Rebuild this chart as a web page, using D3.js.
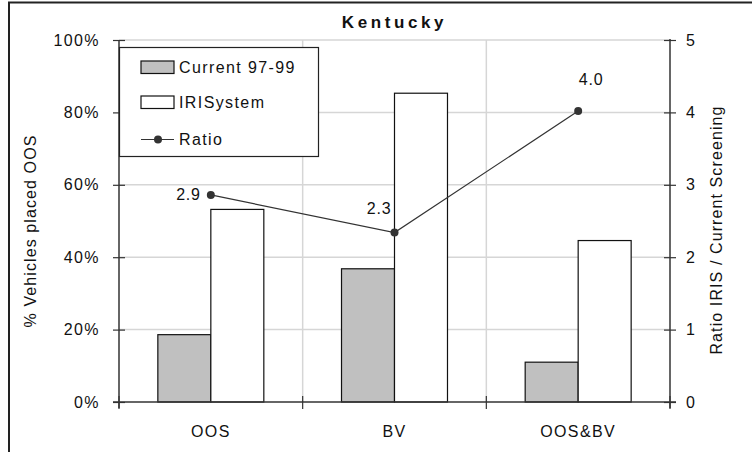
<!DOCTYPE html>
<html><head><meta charset="utf-8">
<script src="https://cdn.jsdelivr.net/npm/d3@7"></script>
<style>
body{margin:0;background:#fff}
svg text{font-family:"Liberation Sans",Arial,sans-serif;fill:#111}
</style>
</head><body><svg id="c" width="752" height="452"></svg>
<script>
const title = "Kentucky";
const categories = ["OOS", "BV", "OOS&BV"];
const seriesNames = ["Current 97-99", "IRISystem"];
const currentValues = [0.186, 0.368, 0.110];
const irisValues = [0.532, 0.853, 0.446];
const ratioName = "Ratio";
const ratioValues = [2.86, 2.34, 4.02];
const leftTicks = [0, 0.2, 0.4, 0.6, 0.8, 1.0];
const rightTicks = [0, 1, 2, 3, 4, 5];
const leftTitle = "% Vehicles placed OOS";
const rightTitle = "Ratio IRIS / Current Screening";

const W = 752, H = 452;
const m = {left: 119, right: 82, top: 40, bottom: 50};
const svg = d3.select("#c");
const FS = 16, LS = "1.4px";

// outer chart border (cropped on right/bottom)
svg.append("path").attr("d", `M9,${H} V2.5 H${W}`).attr("fill", "none")
  .attr("stroke", "#222").attr("stroke-width", 2);

const x = d3.scaleBand().domain(categories).range([m.left, W - m.right]).padding(0);
const x1 = d3.scaleBand().domain(seriesNames).range([0, x.bandwidth()]).paddingInner(0).paddingOuter(0.733);
const y = d3.scaleLinear().domain([0, 1]).range([H - m.bottom, m.top]);
const y2 = d3.scaleLinear().domain([0, 5]).range([H - m.bottom, m.top]);

const gridC = "#d6d6d6";
// horizontal gridlines
svg.append("g").selectAll("line").data(leftTicks.slice(1)).join("line")
  .attr("x1", m.left).attr("x2", W - m.right)
  .attr("y1", d => y(d)).attr("y2", d => y(d))
  .attr("stroke", gridC).attr("stroke-width", 1.5);
// vertical gridlines at category boundaries
svg.append("g").selectAll("line").data(categories.slice(1)).join("line")
  .attr("x1", d => x(d)).attr("x2", d => x(d))
  .attr("y1", m.top).attr("y2", H - m.bottom)
  .attr("stroke", gridC).attr("stroke-width", 1.5);

// bars
const seriesVals = [currentValues, irisValues];
const fills = ["#c0c0c0", "#ffffff"];
seriesNames.forEach((s, si) => {
  svg.append("g").selectAll("rect").data(categories).join("rect")
    .attr("x", c => x(c) + x1(s))
    .attr("y", (c, i) => y(seriesVals[si][i]))
    .attr("width", x1.bandwidth())
    .attr("height", (c, i) => y(0) - y(seriesVals[si][i]))
    .attr("fill", fills[si]).attr("stroke", "#111").attr("stroke-width", 1.2);
});

// axes
const axC = "#333";
// left axis
const la = svg.append("g").attr("transform", `translate(${m.left},0)`)
  .call(d3.axisLeft(y).tickValues(leftTicks).tickFormat(d3.format(".0%")).tickSize(6).tickPadding(12));
la.select(".domain").remove();
la.selectAll(".tick line").attr("x2", 6).attr("x1", -6).attr("stroke", axC).attr("stroke-width", 1.2);
la.selectAll(".tick text").attr("font-size", FS).attr("letter-spacing", LS).attr("fill", "#111").attr("font-family", null).attr("x", -19);
svg.append("line").attr("x1", m.left).attr("x2", m.left).attr("y1", m.top).attr("y2", H - m.bottom + 6)
  .attr("stroke", axC).attr("stroke-width", 1.5);

// right axis
const ra = svg.append("g").attr("transform", `translate(${W - m.right},0)`)
  .call(d3.axisRight(y2).tickValues(rightTicks).tickFormat(d3.format("d")).tickSize(6).tickPadding(10));
ra.select(".domain").remove();
ra.selectAll(".tick line").attr("x1", -6).attr("x2", 6).attr("stroke", axC).attr("stroke-width", 1.2);
ra.selectAll(".tick text").attr("font-size", FS).attr("fill", "#111").attr("font-family", null).attr("x", 16);
svg.append("line").attr("x1", W - m.right).attr("x2", W - m.right).attr("y1", m.top - 1).attr("y2", H - m.bottom + 6)
  .attr("stroke", axC).attr("stroke-width", 1.5);

// bottom axis
svg.append("line").attr("x1", m.left - 6).attr("x2", W - m.right + 6).attr("y1", y(0)).attr("y2", y(0))
  .attr("stroke", axC).attr("stroke-width", 1.5);
const boundaries = categories.map(c => x(c)).concat([x.range()[1]]);
svg.append("g").selectAll("line").data(boundaries).join("line")
  .attr("x1", d => d).attr("x2", d => d).attr("y1", y(0) - 6).attr("y2", y(0) + 7)
  .attr("stroke", axC).attr("stroke-width", 1.2);
svg.append("g").selectAll("text").data(categories).join("text")
  .attr("x", c => x(c) + x.bandwidth() / 2).attr("y", y(0) + 35)
  .attr("text-anchor", "middle").attr("font-size", FS).attr("letter-spacing", LS).text(c => c);

// ratio line
const xc = c => x(c) + x.bandwidth() / 2;
const line = d3.line().x((d, i) => xc(categories[i])).y(d => y2(d));
svg.append("path").datum(ratioValues).attr("d", line).attr("fill", "none")
  .attr("stroke", "#333").attr("stroke-width", 1.2);
svg.append("g").selectAll("circle").data(ratioValues).join("circle")
  .attr("cx", (d, i) => xc(categories[i])).attr("cy", d => y2(d)).attr("r", 4).attr("fill", "#333");
const fmt = d3.format(".1f");
const labOff = [{dx: -10, dy: 5, a: "end"}, {dx: -3, dy: -19, a: "end"}, {dx: 13, dy: -26, a: "middle"}];
svg.append("g").selectAll("text").data(ratioValues).join("text")
  .attr("x", (d, i) => xc(categories[i]) + labOff[i].dx)
  .attr("y", (d, i) => y2(d) + labOff[i].dy)
  .attr("text-anchor", (d, i) => labOff[i].a)
  .attr("font-size", FS).attr("letter-spacing", "0.8px").text(d => fmt(d));

// title
svg.append("text").attr("x", (m.left + W - m.right) / 2).attr("y", 28).attr("text-anchor", "middle")
  .attr("font-size", 17).attr("font-weight", "bold").attr("letter-spacing", "3.6px").text(title);

// axis titles
svg.append("text").attr("transform", `translate(36,${(m.top + H - m.bottom) / 2 + 10}) rotate(-90)`)
  .attr("text-anchor", "middle").attr("font-size", FS).attr("letter-spacing", "1.1px").text(leftTitle);
svg.append("text").attr("transform", `translate(722,${(m.top + H - m.bottom) / 2 + 9}) rotate(-90)`)
  .attr("text-anchor", "middle").attr("font-size", FS).attr("letter-spacing", "1.1px").text(rightTitle);

// legend
const lg = svg.append("g");
lg.append("rect").attr("x", 119.5).attr("y", 47.5).attr("width", 199).attr("height", 109)
  .attr("fill", "#fff").attr("stroke", "#222").attr("stroke-width", 1.2);
const legY = [67, 102];
seriesNames.forEach((s, i) => {
  lg.append("rect").attr("x", 141).attr("y", legY[i] - 6).attr("width", 33).attr("height", 12.5)
    .attr("fill", fills[i]).attr("stroke", "#111").attr("stroke-width", 1.2);
  lg.append("text").attr("x", 179).attr("y", legY[i] + 5.5).attr("font-size", FS).attr("letter-spacing", LS).text(s);
});
lg.append("line").attr("x1", 141).attr("x2", 174).attr("y1", 139.5).attr("y2", 139.5).attr("stroke", "#333").attr("stroke-width", 1.2);
lg.append("circle").attr("cx", 158).attr("cy", 139.5).attr("r", 4).attr("fill", "#333");
lg.append("text").attr("x", 179).attr("y", 145).attr("font-size", FS).attr("letter-spacing", LS).text(ratioName);
</script></body></html>
